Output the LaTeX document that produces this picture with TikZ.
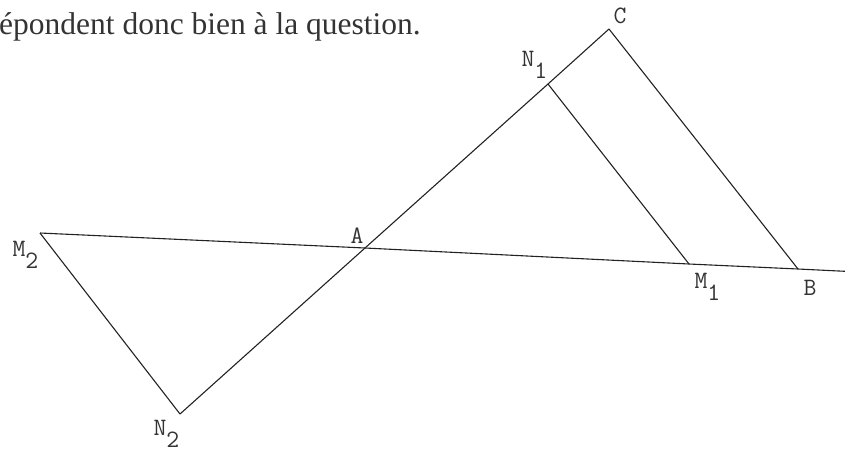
\documentclass[tikz,border=0pt]{standalone}
\usepackage{fontspec}
\setmainfont{Liberation Serif}
\usepackage{tikz}
\usetikzlibrary{positioning}
\definecolor{figink}{HTML}{222222}
\definecolor{figtext}{HTML}{333333}
\newcommand{\lowidx}[1]{\raisebox{-12.5pt}{#1}}

\begin{document}
\begin{tikzpicture}[
  x=1pt,y=-1pt,
  seg/.style={draw=figink,line width=1.1pt},
  ptlbl/.style={font=\ttfamily\fontsize{25}{25}\selectfont,text=figtext,inner sep=0pt,anchor=base west},
  prose/.style={font=\fontsize{31.5}{31.5}\selectfont,text=figtext,inner sep=0pt,anchor=base east}
]
\useasboundingbox (0,0) rectangle (845,453);
\coordinate (C) at (609,29);
\coordinate (N1) at (548,84);
\coordinate (A) at (365,248);
\coordinate (N2) at (180,414);
\coordinate (M2) at (40,233);
\coordinate (M1) at (689,264);
\coordinate (B) at (798,269);
\coordinate (E) at (845,271.3);
\node[prose] (txt) at (421,34) {épondent donc bien à la question.};
\draw[seg] (N2) -- (A) -- (N1) -- (C);
\draw[seg] (C) -- (B);
\draw[seg] (N1) -- (M1);
\draw[seg] (M2) -- (N2);
\draw[seg] (M2) -- (A) -- (M1) -- (B) -- (E);
\node[ptlbl] (lC) at (613.4,23) {C};
\node[ptlbl] (lN1) at (521.4,66) {N\lowidx{1}};
\node[ptlbl] (lA) at (350.4,243) {A};
\node[ptlbl] (lM2) at (12.4,256) {M\lowidx{2}};
\node[ptlbl] (lM1) at (694.4,288) {M\lowidx{1}};
\node[ptlbl] (lB) at (803.4,295) {B};
\node[ptlbl] (lN2) at (153.4,435) {N\lowidx{2}};
\end{tikzpicture}
\end{document}
